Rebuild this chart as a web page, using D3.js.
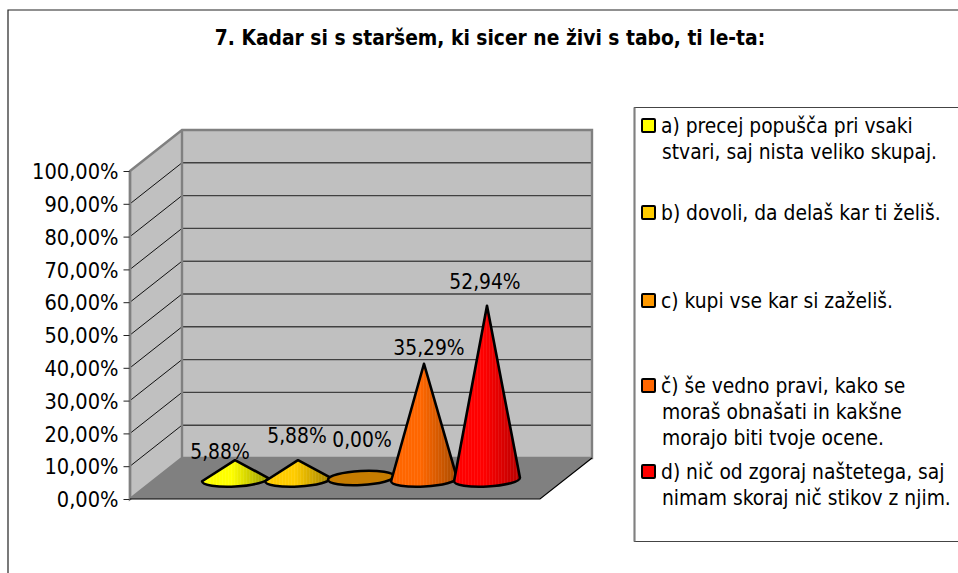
<!DOCTYPE html>
<html><head><meta charset="utf-8">
<script src="https://cdn.jsdelivr.net/npm/d3@7"></script>
<style>html,body{margin:0;padding:0;background:#fff;overflow:hidden}
text{font-family:"DejaVu Sans Condensed","DejaVu Sans",sans-serif;fill:#000}</style>
</head><body><svg id="c" width="958" height="573"></svg>
<script>
const chartTitle = "7. Kadar si s staršem, ki sicer ne živi s tabo, ti le-ta:";
const categories = ["a","b","c","č","d"];
const values = [5.88, 5.88, 0, 35.29, 52.94];
const valueLabels = ["5,88%","5,88%","0,00%","35,29%","52,94%"];
const yTicks = [0,10,20,30,40,50,60,70,80,90,100];
const colors = ["#ffff00","#ffcc00","#ff9900","#ff6600","#ff0000"];
const darkColors = ["#9a9a00","#a08000","#a06000","#a84c00","#b80000"];
const legendLines = [
  ["a) precej popušča pri vsaki","stvari, saj nista veliko skupaj."],
  ["b) dovoli, da delaš kar ti želiš."],
  ["c) kupi vse kar si zaželiš."],
  ["č) še vedno pravi, kako se","moraš obnašati in kakšne","morajo biti tvoje ocene."],
  ["d) nič od zgoraj naštetega, saj","nimam skoraj nič stikov z njim."]
];

// layout
const front = {l:130, r:540, b:499, t:171};
const depth = {x:52, y:-41};
const baseY = 479.5, rx = 33, ry = 7, tilt = -3;
const labelOffset = [[-15,-1],[-1,-17],[1,-32.5],[5,-9],[-2,-17]];
const legendY = [133,220,308,393,479];
const lineH = 26;
const fontPx = "20.8px";

const svg = d3.select("#c");
const y = d3.scaleLinear().domain([0,100]).range([front.b, front.t]);
const x = d3.scalePoint().domain(categories).range([235,487]);
const poly = p => p.map(q=>q.join(",")).join(" ");

svg.append("path").attr("d","M8,573V10H958").attr("fill","none").attr("stroke","#222").attr("stroke-width",1.2);

svg.append("text").attr("x",490).attr("y",45).attr("text-anchor","middle")
  .style("font-weight","bold").style("font-size",fontPx).text(chartTitle);

const bl=[front.l,front.b], tl=[front.l,front.t];
const bbl=[front.l+depth.x,front.b+depth.y], btl=[front.l+depth.x,front.t+depth.y];
const bbr=[front.r+depth.x,front.b+depth.y], btr=[front.r+depth.x,front.t+depth.y];
const fr=[front.r,front.b];
svg.append("polygon").attr("points",poly([tl,btl,bbl,bl])).attr("fill","#c0c0c0");
svg.append("polygon").attr("points",poly([btl,btr,bbr,bbl])).attr("fill","#c0c0c0");
svg.append("polygon").attr("points",poly([bl,bbl,bbr,fr])).attr("fill","#808080");

yTicks.slice(1,-1).forEach(t=>{
  const yy=y(t);
  svg.append("line").attr("x1",front.l).attr("y1",yy).attr("x2",front.l+depth.x).attr("y2",yy+depth.y).attr("stroke","#111").attr("stroke-width",1);
  svg.append("line").attr("x1",front.l+depth.x).attr("y1",yy+depth.y).attr("x2",front.r+depth.x).attr("y2",yy+depth.y)
    .attr("stroke",t===60?"#111":"#404040").attr("stroke-width",t===60?1:1.4);
});
svg.append("polygon").attr("points",poly([tl,btl,btr,bbr,bbl,btl,bbl,bl])).attr("fill","none").attr("stroke","#808080").attr("stroke-width",2.4);
svg.append("line").attr("x1",front.l).attr("y1",front.t).attr("x2",front.l).attr("y2",front.b).attr("stroke","#808080").attr("stroke-width",2.4);
svg.append("path").attr("d",`M${bl}L${fr}L${bbr}`).attr("fill","none").attr("stroke","#000").attr("stroke-width",1.2);

const axis = d3.axisLeft(y).tickValues(yTicks).tickSize(6).tickFormat(d=>d3.format(".2f")(d).replace(".",",")+"%");
const ag = svg.append("g").attr("transform",`translate(${front.l-0.5},0)`).call(axis);
ag.select(".domain").remove();
ag.selectAll("line").attr("stroke","#222");
ag.selectAll("text").attr("x",-11).attr("dy","0.36em").style("font-size","21.6px");

const defs = svg.append("defs");
colors.forEach((c,i)=>{
  const g=defs.append("linearGradient").attr("id","g"+i);
  g.append("stop").attr("offset","0").attr("stop-color",c);
  g.append("stop").attr("offset","0.45").attr("stop-color",c);
  g.append("stop").attr("offset","1").attr("stop-color",darkColors[i]);
});
const stripe = defs.append("pattern").attr("id","st").attr("width",3).attr("height",4).attr("patternUnits","userSpaceOnUse");
stripe.append("rect").attr("width",1).attr("height",4).attr("fill","#fff").attr("opacity",0.07);
const rad = tilt*Math.PI/180;
categories.forEach((k,i)=>{
  const cx=x(k), v=values[i];
  const lx=cx-rx*Math.cos(rad), ly=baseY-rx*Math.sin(rad), rxx=cx+rx*Math.cos(rad), ryy=baseY+rx*Math.sin(rad);
  const apexY = baseY-(y(0)-y(v));
  const g=svg.append("g");
  if(v===0){
    g.append("ellipse").attr("cx",cx).attr("cy",baseY-1.5).attr("rx",rx).attr("ry",ry)
      .attr("transform",`rotate(${tilt} ${cx} ${baseY-1.5})`).attr("fill","#c67c00").attr("stroke","#000").attr("stroke-width",2.6);
  } else {
    const d=`M${lx},${ly}A${rx},${ry} ${tilt} 0 0 ${rxx},${ryy}L${cx},${apexY}Z`;
    g.append("path").attr("d",d).attr("fill",`url(#g${i})`);
    g.append("path").attr("d",d).attr("fill","url(#st)").attr("stroke","#000").attr("stroke-width",2.6).attr("stroke-linejoin","round");
  }
  svg.append("text").attr("x",cx+labelOffset[i][0]).attr("y",apexY+labelOffset[i][1]).attr("text-anchor","middle")
    .style("font-size",fontPx).text(valueLabels[i]);
});

svg.append("path").attr("d","M958,107.5H634.5V541.5H958").attr("fill","#fff").attr("stroke","#444").attr("stroke-width",1.2);
svg.append("path").attr("d","M634.5,107.5V541.5").attr("stroke","#808080").attr("stroke-width",2);
legendLines.forEach((ls,i)=>{
  svg.append("rect").attr("x",642).attr("y",legendY[i]-14).attr("width",13).attr("height",13).attr("rx",1)
    .attr("fill",colors[i]).attr("stroke","#000").attr("stroke-width",2);
  ls.forEach((t,j)=>svg.append("text").attr("x",j===0?661:662).attr("y",legendY[i]+j*lineH).style("font-size",fontPx).text(t));
});
</script></body></html>
